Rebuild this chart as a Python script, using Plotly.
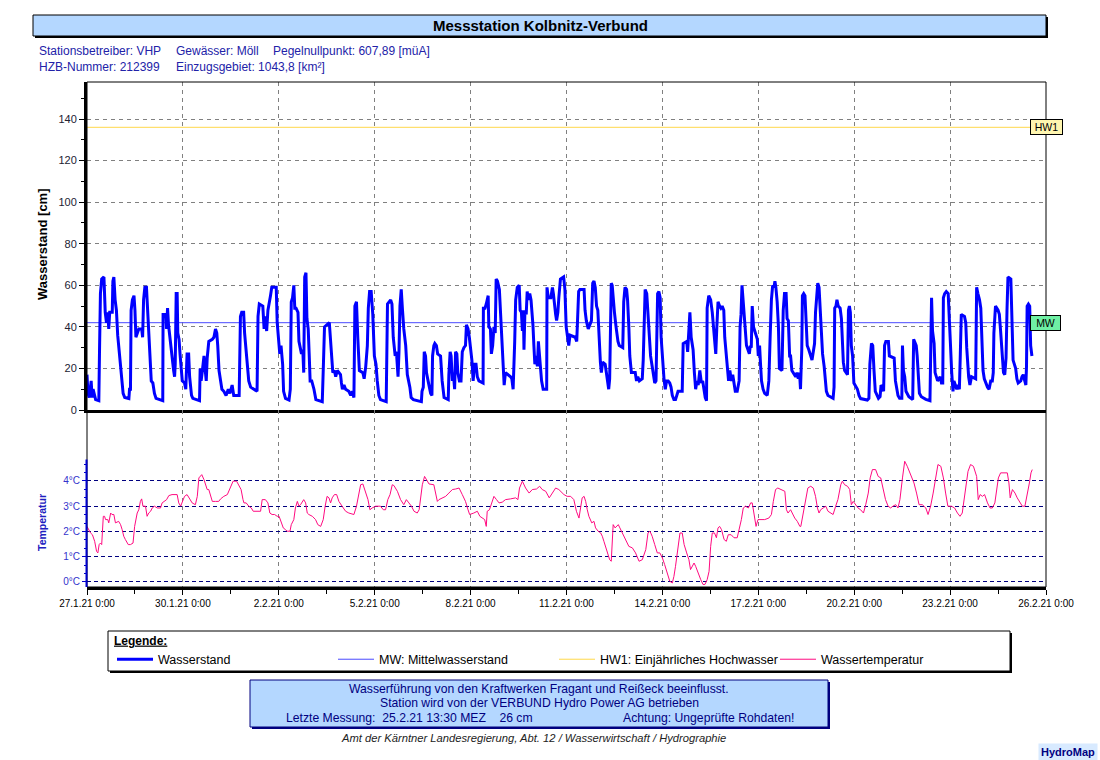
import pandas as pd
import plotly.graph_objects as go

# ---------------- data ----------------
START = "2021-01-27 00:00"
N_DAYS = 30

# Wasserstand [cm]; time given as days after 27.1.21 0:00
wl_day = [
    0.00, 0.03, 0.07, 0.13, 0.16, 0.19, 0.27, 0.37, 0.39, 0.42,
    0.46, 0.53, 0.57, 0.61, 0.65, 0.68, 0.71, 0.79, 0.81, 0.84,
    0.88, 0.92, 0.96, 1.01, 1.05, 1.09, 1.13, 1.18, 1.31, 1.33,
    1.36, 1.38, 1.42, 1.47, 1.50, 1.53, 1.57, 1.62, 1.71, 1.74,
    1.77, 1.81, 1.86, 1.89, 1.93, 1.98, 2.01, 2.06, 2.11, 2.16,
    2.37, 2.38, 2.47, 2.49, 2.52, 2.55, 2.59, 2.62, 2.66, 2.71,
    2.74, 2.76, 2.79, 2.82, 2.84, 2.88, 2.91, 2.95, 2.98, 3.05,
    3.09, 3.13, 3.18, 3.21, 3.24, 3.27, 3.31, 3.52, 3.54, 3.57,
    3.61, 3.66, 3.70, 3.73, 3.76, 3.81, 3.92, 3.97, 4.02, 4.06,
    4.09, 4.13, 4.18, 4.22, 4.28, 4.35, 4.42, 4.47, 4.54, 4.59,
    4.76, 4.77, 4.80, 4.84, 4.90, 4.93, 4.97, 5.01, 5.06, 5.12,
    5.24, 5.32, 5.35, 5.39, 5.50, 5.54, 5.57, 5.62, 5.66, 5.70,
    5.74, 5.78, 5.92, 5.95, 5.99, 6.03, 6.07, 6.12, 6.15, 6.21,
    6.32, 6.36, 6.39, 6.43, 6.47, 6.50, 6.54, 6.60, 6.63, 6.67,
    6.71, 6.75, 6.78, 6.81, 6.85, 6.88, 6.92, 6.95, 6.98, 7.03,
    7.10, 7.16, 7.36,
    7.39, 7.43, 7.58, 7.62, 7.66, 7.69, 7.74, 7.78, 7.83, 7.93,
    7.96, 7.99, 8.04, 8.09, 8.19, 8.25, 8.30, 8.35, 8.38, 8.43,
    8.47, 8.52, 8.63, 8.67, 8.72, 8.77, 8.80, 8.84, 8.89, 8.94,
    8.99, 9.04, 9.08, 9.13, 9.18, 9.36, 9.40, 9.50, 9.54, 9.58,
    9.64, 9.68, 9.73, 9.76, 9.79, 9.83, 9.87, 9.91, 9.97, 10.02,
    10.06, 10.10, 10.14, 10.21, 10.46, 10.48, 10.52, 10.55, 10.59, 10.62,
    10.67, 10.71, 10.75, 10.79, 10.81, 10.85, 10.88, 10.93, 10.97, 11.06,
    11.11, 11.17, 11.30, 11.32, 11.36, 11.39, 11.43, 11.46, 11.50, 11.53,
    11.57, 11.60, 11.65, 11.70, 11.74, 11.79, 11.84, 11.87, 11.92, 11.96,
    12.00, 12.04, 12.08, 12.12, 12.17, 12.21, 12.26, 12.39, 12.40, 12.45,
    12.49, 12.52, 12.55, 12.57, 12.62, 12.65, 12.69, 12.73, 12.77, 12.80,
    12.84, 12.90, 12.94, 12.97, 13.01, 13.05, 13.09, 13.25, 13.29, 13.33,
    13.38, 13.41, 13.46, 13.52, 13.55, 13.59, 13.62, 13.65, 13.67, 13.70,
    13.74, 13.77, 13.80, 13.85, 13.89, 13.92, 13.95, 13.98, 14.01, 14.04,
    14.09, 14.12, 14.16, 14.19, 14.22, 14.27, 14.38, 14.39, 14.43, 14.51,
    14.56, 14.59, 14.62, 14.66, 14.69, 14.73, 14.76, 14.81, 14.91, 14.95,
    14.99, 15.07, 15.11, 15.27, 15.32, 15.35, 15.38, 15.42, 15.55, 15.58,
    15.62, 15.68, 15.78, 15.82, 15.86, 15.90, 15.94, 15.98, 16.01, 16.06,
    16.09, 16.13, 16.21, 16.24, 16.28, 16.32, 16.35, 16.37, 16.40, 16.43,
    16.46, 16.50, 16.55, 16.58, 16.61, 16.65, 16.76, 16.79, 16.83, 16.88,
    16.91, 16.95, 16.98, 17.03, 17.15, 17.19, 17.23, 17.28, 17.37, 17.40,
    17.43, 17.46, 17.51, 17.55, 17.59, 17.63, 17.67, 17.71, 17.76, 17.80,
    17.83, 17.85, 17.89, 17.93, 17.96, 18.01, 18.05, 18.09, 18.13, 18.18,
    18.23, 18.27, 18.31, 18.36, 18.41, 18.49, 18.62, 18.65, 18.76, 18.79,
    18.83, 18.86, 18.90, 18.96, 19.00, 19.04, 19.08, 19.12, 19.17, 19.22,
    19.26, 19.30, 19.34, 19.38, 19.40, 19.45, 19.51, 19.56, 19.60, 19.63,
    19.67, 19.70, 19.74, 19.79, 19.83, 19.87, 19.92, 19.95, 19.99, 20.03,
    20.07, 20.11, 20.16, 20.20, 20.24, 20.28, 20.34, 20.40, 20.43, 20.46,
    20.49, 20.52, 20.55, 20.59, 20.63, 20.72, 20.75, 20.78, 20.81, 20.85,
    20.97, 21.00, 21.04, 21.07, 21.10, 21.15, 21.20, 21.28, 21.33, 21.37,
    21.41, 21.45, 21.49, 21.52, 21.55, 21.59, 21.63, 21.66, 21.74, 21.78,
    21.82, 21.87, 21.90, 21.94, 21.98, 22.01, 22.05, 22.17, 22.21, 22.25,
    22.29, 22.32, 22.36, 22.38, 22.42, 22.46, 22.50, 22.53, 22.58,
    22.64, 22.68, 22.72, 22.76, 22.79, 22.83, 22.86, 22.90, 22.93, 22.97,
    23.01, 23.06, 23.09, 23.13, 23.18, 23.34, 23.37, 23.39, 23.43, 23.46,
    23.50, 23.56, 23.60, 23.63, 23.66, 23.70, 23.79, 23.82, 23.85, 23.88,
    23.91, 23.95, 23.99, 24.10, 24.15, 24.20, 24.41, 24.46, 24.49, 24.54,
    24.58, 24.62, 24.66, 24.76, 24.81, 24.84, 24.89, 24.92, 24.95, 24.99,
    25.07, 25.10, 25.25, 25.29, 25.33, 25.37, 25.42, 25.49, 25.51, 25.54,
    25.58, 25.62, 25.71, 25.83, 25.86, 25.94, 25.97, 26.01, 26.04, 26.10,
    26.24, 26.37, 26.39, 26.42, 26.45, 26.50, 26.53, 26.61, 26.69, 26.73,
    26.77, 26.79, 26.83, 26.88, 26.94, 26.97, 27.01, 27.05, 27.09, 27.12,
    27.17, 27.21, 27.25, 27.29, 27.32, 27.35, 27.45, 27.49, 27.52, 27.55,
    27.58, 27.62, 27.67, 27.80, 27.83, 27.87, 27.92, 27.96, 28.00, 28.03,
    28.07, 28.11, 28.17, 28.22, 28.27, 28.32, 28.35, 28.37, 28.42, 28.50,
    28.54, 28.58, 28.62, 28.67, 28.71, 28.75, 28.78, 28.81, 28.90, 28.93,
    28.97, 29.05, 29.09, 29.13, 29.21, 29.25, 29.29, 29.32, 29.37, 29.39,
    29.41, 29.45, 29.49, 29.52, 29.56,
]
wl_cm = [
    17, 8, 6, 14, 6, 10, 5, 4.5, 27, 56,
    63, 64, 47, 42, 47, 39, 47, 47, 62, 64,
    53, 48, 36, 27, 21, 14, 8, 6, 5.5, 10,
    10, 48, 53, 55, 48, 35, 37, 39, 39, 35,
    53, 59, 59, 51, 40, 28, 14, 13, 8, 5.6,
    4.5, 46, 46, 39, 49, 41, 35, 31, 24, 19,
    16, 22, 56, 56, 37, 34, 27, 19, 14, 13,
    10, 27, 27, 16, 10, 7, 5.6, 4.5, 20, 14,
    19, 26, 19, 14, 25, 33, 34, 35, 39, 37,
    31, 19, 14, 10, 9, 7, 10, 8, 12, 7,
    7, 26, 45, 47, 47, 37, 31, 24, 14, 11,
    10, 9, 45, 51, 50, 39, 45, 38, 48, 51,
    55, 59, 59, 42, 35, 27, 31, 22, 9, 5.6,
    4.8, 10, 52, 54, 60, 49, 49, 47, 33, 29,
    27, 29, 18, 64, 66, 44, 39, 27, 14, 14,
    10, 5, 4,
    19, 40, 42, 31, 20, 18, 19, 16, 19, 17,
    13, 10, 12, 10, 9, 7, 9, 6, 50, 52,
    35, 19, 18, 15, 21, 31, 49, 57, 57, 46,
    26, 22, 14, 7, 5, 4, 51, 53, 51, 35,
    26, 28, 16, 28, 50, 58, 48, 39, 31, 17,
    14, 11, 6, 5, 4, 9, 11, 28, 26, 18,
    14, 11, 8, 7, 26, 31, 32, 31, 27, 26,
    14, 6, 5, 17, 28, 26, 14, 18, 10, 28,
    27, 18, 14, 14, 28, 30, 31, 41, 39, 35,
    29, 24, 14, 22, 22, 16, 14, 13, 49, 49,
    51, 53, 55, 40, 39, 27, 31, 40, 37, 63,
    62, 58, 46, 35, 21, 12, 18, 16, 15, 10,
    33, 53, 59, 60, 48, 47, 38, 48, 29, 48,
    46, 57, 53, 56, 53, 48, 41, 31, 22, 26,
    21, 33, 25, 18, 14, 10, 10, 59, 54, 54,
    59, 56, 50, 46, 43, 47, 54, 63, 64, 58,
    40, 31, 36, 35, 33, 45, 57, 58, 58, 48,
    43, 39, 43, 61, 62, 59, 50, 48, 35, 23,
    18, 23, 22, 18, 14, 10, 15, 47, 61, 60,
    52, 47, 40, 35, 33, 31, 30, 52, 59, 58,
    53, 40, 26, 18, 18, 14, 16, 14, 15, 24,
    48, 58, 56, 47, 34, 26, 22, 18, 13, 14,
    42, 56, 57, 54, 35, 21, 15, 10, 14, 14,
    13, 11, 7, 5, 5, 9, 9, 32, 33, 28,
    43, 47, 35, 29, 18, 10, 14, 12, 19, 13,
    14, 10, 6, 4.5, 49, 55, 53, 47, 40, 34,
    27, 39, 52, 50, 49, 50, 48, 35, 27, 22,
    14, 19, 14, 17, 13, 9, 9, 14, 40, 46,
    60, 54, 49, 43, 31, 27, 31, 30, 50, 40,
    34, 26, 31, 22, 14, 10, 8, 7, 14, 35,
    53, 60, 59, 62, 59, 52, 40, 20, 19, 48,
    56, 56, 44, 43, 26, 26, 19, 16, 18, 15,
    18, 10, 29, 55, 56, 55, 40, 31, 29,
    26, 24, 28, 32, 47, 59, 61, 59, 50, 37,
    27, 21, 14, 9, 7, 5.6, 11, 49, 50, 53,
    50, 49, 44, 30, 23, 19, 17, 48, 50, 47,
    31, 26, 13, 10, 7, 5.5, 4.8, 5.6, 22, 32,
    31, 19, 9, 5.6, 6.4, 12, 11, 9, 31, 33,
    33, 26, 25, 14, 11, 7, 5.6, 5.6, 31, 19,
    16, 9, 6.4, 5.1, 34, 31, 26, 13, 8, 6.4,
    5.1, 4.5, 41, 54, 38, 32, 18, 14, 16, 13,
    13, 54, 56, 57, 56, 42, 32, 18, 9, 14,
    12, 10, 12, 10, 27, 46, 45, 42, 30, 21,
    16, 12, 16, 15, 59, 56, 53, 49, 30, 19,
    15, 13, 11, 10, 14, 14, 18, 37, 50, 48,
    46, 38, 26, 18, 17, 25, 48, 64, 63, 41,
    24, 20, 15, 13, 14, 16, 17, 15, 12, 21,
    50, 51, 50, 31, 26,
]

# Wassertemperatur [°C]; time as days after 27.1.21 0:00
temp_day = [
    0.00, 0.05, 0.11, 0.17, 0.24, 0.30, 0.34, 0.38, 0.42, 0.46,
    0.51, 0.55, 0.58, 0.65, 0.68, 0.74, 0.78, 0.84, 0.89, 0.99,
    1.05, 1.10, 1.15, 1.20, 1.29, 1.36, 1.44, 1.49, 1.53, 1.57,
    1.62, 1.67, 1.71, 1.75, 1.83, 1.88, 1.93, 1.99, 2.04, 2.11,
    2.20, 2.30, 2.35, 2.43, 2.49, 2.56, 2.66, 2.82, 2.87, 2.93,
    2.98, 3.05, 3.13, 3.20, 3.29, 3.39, 3.45, 3.50, 3.55, 3.59,
    3.66, 3.71, 3.76, 3.81, 3.86, 3.92, 4.02, 4.12, 4.18, 4.28,
    4.39, 4.49, 4.57, 4.68, 4.75, 4.82, 4.88, 4.91, 4.98, 5.06,
    5.14, 5.20, 5.43, 5.48, 5.58, 5.66, 5.72, 5.79, 5.87, 5.95,
    6.01, 6.08, 6.14, 6.21, 6.26, 6.35, 6.39, 6.47, 6.52, 6.58,
    6.63, 6.68, 6.73, 6.78, 6.84, 6.89, 6.94, 7.05, 7.15, 7.22,
    7.31, 7.39, 7.45, 7.51, 7.57, 7.62, 7.67, 7.74, 7.81, 7.88,
    7.98, 8.09, 8.19, 8.30, 8.35, 8.43, 8.51, 8.56, 8.63, 8.71,
    8.79, 8.85, 8.92, 9.03, 9.18, 9.27, 9.34, 9.41, 9.48, 9.55,
    9.60, 9.71, 9.81, 9.91, 9.99, 10.07, 10.15, 10.23, 10.33, 10.39,
    10.43, 10.49, 10.56, 10.62, 10.70, 10.85, 10.90, 10.96, 11.01, 11.11,
    11.22, 11.32, 11.43, 11.53, 11.64, 11.74, 11.84, 11.92, 11.97, 12.10,
    12.21, 12.29, 12.37, 12.44, 12.49, 12.52, 12.59, 12.66, 12.73, 12.81,
    12.89, 12.99, 13.09, 13.25, 13.41, 13.48, 13.53, 13.62, 13.72, 13.83,
    13.93, 14.06, 14.16, 14.24, 14.35, 14.46, 14.56, 14.66, 14.76,
    14.82, 14.92, 15.02, 15.13, 15.23, 15.31, 15.39, 15.44, 15.49, 15.55,
    15.60, 15.65, 15.70, 15.79, 15.86, 15.91, 15.99, 16.07, 16.12, 16.17,
    16.22, 16.27, 16.35, 16.40, 16.43, 16.46, 16.52, 16.57, 16.62, 16.67,
    16.74, 16.85, 16.95, 17.06, 17.16, 17.27, 17.37, 17.48, 17.55, 17.61,
    17.68, 17.76, 17.84, 17.92, 18.00, 18.07, 18.15, 18.23, 18.31, 18.36,
    18.41, 18.49, 18.55, 18.62, 18.68, 18.76, 18.83, 18.88, 18.94, 18.99,
    19.04, 19.11, 19.20, 19.27, 19.33, 19.40, 19.46, 19.51, 19.56, 19.63,
    19.69, 19.74, 19.79, 19.85, 19.93, 20.00, 20.06, 20.15, 20.24, 20.34,
    20.42, 20.47, 20.53, 20.60, 20.69, 20.76, 20.81, 20.86, 20.93, 20.99,
    21.07, 21.20, 21.33, 21.41, 21.47, 21.54, 21.61, 21.70, 21.78, 21.83,
    21.88, 21.93, 22.01, 22.06, 22.14, 22.22, 22.30,
    22.33, 22.41, 22.48, 22.55, 22.64, 22.72, 22.79, 22.85, 22.90, 22.95,
    23.03, 23.11, 23.18, 23.26, 23.34, 23.42, 23.49, 23.58, 23.63, 23.70,
    23.79, 23.86, 23.91, 23.97, 24.05, 24.12, 24.20, 24.29, 24.36, 24.44,
    24.50, 24.57, 24.67, 24.75, 24.83, 24.91, 24.98, 25.06, 25.14, 25.21,
    25.30, 25.37, 25.43, 25.51, 25.58, 25.66, 25.77, 25.87, 25.95, 26.03,
    26.13, 26.24, 26.31, 26.39, 26.47, 26.55, 26.62, 26.71, 26.79, 26.86,
    26.93, 27.04, 27.14, 27.23, 27.31, 27.38, 27.44, 27.49, 27.56, 27.64,
    27.73, 27.83, 27.88, 27.94, 28.01, 28.08, 28.17, 28.25, 28.32, 28.40,
    28.46, 28.51, 28.58, 28.69, 28.79, 28.84, 28.88, 28.95, 29.03, 29.10,
    29.19, 29.26, 29.34, 29.42, 29.48, 29.53, 29.57,
]
temp_c = [
    2.20, 2.07, 1.94, 1.87, 1.61, 1.21, 1.15, 1.48, 1.54, 1.48,
    2.60, 2.60, 2.47, 2.47, 2.34, 2.73, 2.67, 2.67, 2.34, 2.40,
    2.27, 2.07, 1.81, 1.68, 1.48, 1.48, 1.54, 2.20, 2.47, 2.73,
    2.86, 3.19, 3.29, 3.00, 3.00, 2.60, 2.73, 2.80, 2.93, 3.00,
    2.93, 2.93, 3.13, 3.19, 3.26, 3.42, 3.46, 3.46, 3.13, 3.00,
    3.19, 3.39, 3.46, 3.33, 3.13, 3.06, 3.39, 4.12, 4.18, 4.25,
    4.05, 3.85, 3.66, 3.66, 3.46, 3.19, 3.19, 3.19, 3.29, 3.39,
    3.46, 3.72, 3.99, 3.99, 3.79, 3.66, 3.26, 3.13, 3.13, 3.00,
    2.93, 2.80, 2.80, 3.26, 3.26, 3.13, 2.73, 2.67, 2.67, 2.60,
    2.60, 2.34, 2.14, 2.07, 2.01, 2.01, 2.27, 2.47, 2.93, 3.19,
    3.00, 3.06, 3.19, 3.26, 3.13, 2.73, 2.67, 2.60, 2.47, 2.27,
    2.20, 2.47, 3.00, 3.39, 3.33, 3.13, 3.33, 3.46, 3.46, 3.19,
    3.00, 2.80, 2.73, 2.67, 2.67, 3.00, 3.52, 3.85, 3.88, 3.52,
    3.26, 2.86, 2.93, 3.00, 3.00, 2.86, 2.86, 3.26, 3.46, 3.85,
    3.82, 3.59, 3.26, 3.06, 3.26, 3.13, 3.00, 2.80, 2.73, 2.86,
    3.26, 3.85, 4.18, 4.05, 3.88, 3.85, 3.59, 3.19, 3.26, 3.33,
    3.39, 3.52, 3.66, 3.68, 3.72, 3.46, 3.19, 2.86, 2.67, 2.73,
    2.80, 2.60, 2.53, 2.47, 2.20, 2.80, 2.86, 3.13, 3.39, 3.26,
    3.13, 3.16, 3.26, 3.29, 3.33, 3.26, 3.72, 3.99, 3.72, 3.52,
    3.66, 3.68, 3.79, 3.66, 3.59, 3.33, 3.52, 3.72, 3.66,
    3.59, 3.46, 3.39, 3.39, 3.26, 2.80, 2.53, 2.86, 3.33, 3.39,
    3.19, 2.86, 2.60, 2.34, 2.40, 2.14, 2.01, 1.94, 1.81, 1.61,
    1.41, 1.15, 0.88, 0.82, 1.48, 2.27, 2.14, 2.20, 2.27, 2.14,
    1.94, 1.68, 1.41, 1.35, 1.15, 0.82, 0.88, 1.28, 1.94, 2.01,
    1.81, 1.48, 1.15, 1.15, 0.95, 0.69, 0.36, 0.03, -0.04, 0.22,
    0.62, 1.41, 1.94, 1.94, 1.48, 1.15, 0.88, 0.49, 0.62, 0.75,
    0.62, 0.36, 0.09, -0.10, -0.10, 0.09, 0.42, 1.41, 1.94, 1.94,
    1.75, 2.14, 2.20, 2.07, 1.68, 1.61, 1.87, 1.87, 1.75, 1.75,
    2.14, 2.47, 2.93, 3.00, 2.93, 3.13, 3.13, 2.73, 2.20, 2.47,
    2.47, 2.47, 2.53, 2.67, 3.19, 3.66, 3.72, 3.66, 3.59, 3.59,
    2.86, 2.73, 2.86, 2.73, 2.53, 2.40, 2.20,
    2.20, 2.73, 3.33, 3.72, 3.79, 3.72, 3.39, 2.93, 2.73, 2.86,
    2.93, 3.00, 2.80, 2.73, 2.67, 3.00, 3.26, 3.85, 3.99, 3.85,
    3.79, 3.66, 3.06, 3.19, 3.06, 2.93, 2.86, 2.73, 3.06, 3.52,
    4.12, 4.45, 4.45, 4.18, 4.12, 3.72, 3.26, 3.00, 2.93, 3.00,
    3.06, 2.93, 3.26, 4.12, 4.78, 4.58, 4.25, 3.92, 3.52, 3.06,
    3.06, 2.93, 2.67, 3.00, 3.52, 4.18, 4.65, 4.58, 4.12, 3.52,
    3.00, 3.00, 2.93, 2.73, 2.60, 2.73, 3.26, 3.79, 4.38, 4.65,
    4.58, 4.18, 3.26, 3.46, 3.39, 3.46, 3.13, 2.93, 2.93, 3.13,
    3.66, 4.12, 4.32, 4.32, 4.32, 3.92, 3.33, 3.66, 3.52, 3.33,
    3.13, 3.00, 3.00, 3.46, 3.92, 4.32, 4.45,
]

MW_CM = 42      # Mittelwasserstand
HW1_CM = 136    # einjährliches Hochwasser

x_tick_days = [0, 3, 6, 9, 12, 15, 18, 21, 24, 27, 30]
x_tick_labels = ["27.1.21 0:00", "30.1.21 0:00", "2.2.21 0:00", "5.2.21 0:00",
                 "8.2.21 0:00", "11.2.21 0:00", "14.2.21 0:00", "17.2.21 0:00",
                 "20.2.21 0:00", "23.2.21 0:00", "26.2.21 0:00"]
x_minor_days = [1.5, 4.5, 7.5, 10.5, 13.5, 16.5, 19.5, 22.5, 25.5, 28.5]
wl_ticks = [0, 20, 40, 60, 80, 100, 120, 140]
wl_minor_ticks = [10, 30, 50, 70, 90, 110, 130, 150]
temp_ticks = [0, 1, 2, 3, 4]
temp_tick_labels = ["0°C", "1°C", "2°C", "3°C", "4°C"]

assert len(wl_day) == len(wl_cm), (len(wl_day), len(wl_cm))
assert len(temp_day) == len(temp_c), (len(temp_day), len(temp_c))

# ---------------- helpers ----------------
t0 = pd.Timestamp(START)
def to_time(days):
    return [t0 + pd.Timedelta(days=float(d)) for d in days]

W, H = 1100, 760
def px(x):
    return x / W
def py(y):
    return 1 - y / H

FONT = "Liberation Sans, Arial, sans-serif"
NAVY = "#00007f"
BOX_BLUE = "#b4d7ff"

t_end = t0 + pd.Timedelta(days=N_DAYS)
grid_vals = to_time(x_tick_days)

fig = go.Figure()

fig.add_trace(go.Scatter(
    x=[t0, t_end], y=[HW1_CM, HW1_CM], mode="lines",
    name="HW1: Einjährliches Hochwasser", legendrank=3,
    line=dict(color="#ffd84a", width=1), hoverinfo="skip",
    xaxis="x", yaxis="y"))
fig.add_trace(go.Scatter(
    x=[t0, t_end], y=[MW_CM, MW_CM], mode="lines",
    name="MW: Mittelwasserstand", legendrank=2,
    line=dict(color="#4a4aff", width=1), hoverinfo="skip",
    xaxis="x", yaxis="y"))
fig.add_trace(go.Scatter(
    x=to_time(wl_day), y=wl_cm, mode="lines", name="Wasserstand",
    legendrank=1, line=dict(color="#0000ff", width=3),
    xaxis="x", yaxis="y"))
fig.add_trace(go.Scatter(
    x=to_time(temp_day), y=temp_c, mode="lines", name="Wassertemperatur",
    legendrank=4, line=dict(color="#ff0a80", width=1),
    xaxis="x2", yaxis="y2"))

grid_dash = "4px,4px"
common_x = dict(
    type="date", domain=[px(87), px(1046)], range=[t0, t_end],
    showgrid=True, gridcolor="#808080", griddash=grid_dash, gridwidth=1,
    tickvals=grid_vals, zeroline=False, automargin=False,
    showline=True, linecolor="black", linewidth=3,
)

fig.update_layout(
    template="none",
    width=W, height=H, autosize=False,
    margin=dict(l=0, r=0, t=0, b=0, pad=0, autoexpand=False),
    paper_bgcolor="white", plot_bgcolor="white",
    font=dict(family=FONT, size=11, color="black"),
    hovermode=False,
    xaxis=dict(**common_x, anchor="y", showticklabels=False, ticks=""),
    xaxis2=dict(**common_x, anchor="y2", matches="x",
                ticktext=x_tick_labels, showticklabels=True,
                ticks="outside", ticklen=5, tickcolor="black", tickwidth=1,
                tickfont=dict(size=10, color="black"),
                minor=dict(tickvals=to_time(x_minor_days), ticks="outside",
                           ticklen=4, tickcolor="black", showgrid=False)),
    yaxis=dict(domain=[py(410), py(82)], range=[0, 157.8], anchor="x",
               automargin=False,
               tickvals=wl_ticks, ticks="outside", ticklen=5,
               tickcolor="black", tickfont=dict(size=11, color="#222233"),
               showline=True, linecolor="black", linewidth=3,
               showgrid=True, gridcolor="#808080", griddash=grid_dash,
               zeroline=False,
               minor=dict(tickvals=wl_minor_ticks, ticks="outside",
                          ticklen=3, tickcolor="black", showgrid=False)),
    yaxis2=dict(domain=[py(587), py(410)], range=[-0.2, 6.81], anchor="x2",
                automargin=False,
                tickvals=temp_ticks, ticktext=temp_tick_labels,
                ticks="outside", ticklen=4, tickcolor="#0000cc",
                tickfont=dict(size=10, color="#3333cc"),
                showline=False, showgrid=True, gridcolor=NAVY,
                griddash="4px,3px", zeroline=False,
                minor=dict(tickvals=[k / 3 for k in range(0, 15)],
                           ticks="outside", ticklen=2, tickcolor="#0000cc",
                           showgrid=False)),
    showlegend=True,
    legend=dict(orientation="h", x=px(112), y=py(629),
                xanchor="left", yanchor="top",
                bgcolor="rgba(0,0,0,0)", borderwidth=0,
                font=dict(size=12.5, color="black"),
                title=dict(text="<b><u>Legende:</u></b>", side="top",
                           font=dict(size=12, color="black")),
                entrywidth=170, entrywidthmode="pixels",
                itemwidth=36, tracegroupgap=0,
                itemclick=False, itemdoubleclick=False),
)

shapes = []
# title bar (shadow + bar)
shapes.append(dict(type="rect", xref="paper", yref="paper",
                   x0=px(35), x1=px(1048), y0=py(38), y1=py(17),
                   fillcolor="black", line=dict(width=0), layer="below"))
shapes.append(dict(type="rect", xref="paper", yref="paper",
                   x0=px(33), x1=px(1046), y0=py(36), y1=py(15),
                   fillcolor=BOX_BLUE, line=dict(color="black", width=1),
                   layer="below"))
# plot frame (top + right border)
shapes.append(dict(type="rect", xref="paper", yref="paper",
                   x0=px(87), x1=px(1046), y0=py(587), y1=py(82),
                   line=dict(color="black", width=1), layer="above"))
# temperature axis line
shapes.append(dict(type="line", xref="paper", yref="y2",
                   x0=px(86.5), x1=px(86.5), y0=-0.2, y1=4.85,
                   line=dict(color="#0000cc", width=2), layer="above"))
# legend frame (shadow + box)
shapes.append(dict(type="rect", xref="paper", yref="paper",
                   x0=px(110), x1=px(1012), y0=py(673), y1=py(633),
                   fillcolor="black", line=dict(width=0), layer="below"))
shapes.append(dict(type="rect", xref="paper", yref="paper",
                   x0=px(108), x1=px(1010), y0=py(671), y1=py(631),
                   fillcolor="white", line=dict(color="black", width=1),
                   layer="below"))
# info box (shadow + box)
shapes.append(dict(type="rect", xref="paper", yref="paper",
                   x0=px(252), x1=px(830), y0=py(729), y1=py(682),
                   fillcolor=NAVY, line=dict(width=0), layer="below"))
shapes.append(dict(type="rect", xref="paper", yref="paper",
                   x0=px(250), x1=px(828), y0=py(727), y1=py(680),
                   fillcolor=BOX_BLUE, line=dict(color=NAVY, width=1),
                   layer="below"))
fig.update_layout(shapes=shapes)

ann = []
def text(x, y, s, size=11, color="black", xanchor="left", bold=False,
         italic=False, **kw):
    if bold:
        s = f"<b>{s}</b>"
    if italic:
        s = f"<i>{s}</i>"
    d = dict(x=px(x), y=py(y), xref="paper", yref="paper", text=s,
             showarrow=False, xanchor=xanchor, yanchor="middle",
             font=dict(size=size, color=color, family=FONT))
    d.update(kw)
    ann.append(d)

text(540, 25, "Messstation Kolbnitz-Verbund", size=15, bold=True,
     xanchor="center")
HDR = "#2222a8"
text(37, 51, "Stationsbetreiber: VHP", size=12, color=HDR)
text(174, 51, "Gewässer: Möll", size=12, color=HDR)
text(271, 51, "Pegelnullpunkt: 607,89 [müA]", size=12, color=HDR)
text(37, 67, "HZB-Nummer: 212399", size=12, color=HDR)
text(174, 67, "Einzugsgebiet: 1043,8 [km²]", size=12, color=HDR)

text(42, 244, "Wasserstand [cm]", size=13, bold=True, xanchor="center",
     textangle=-90)
text(42, 523, "Temperatur", size=10.5, bold=True, color="#2020c0",
     xanchor="center", textangle=-90)

# reference level labels
ann.append(dict(x=px(1030), y=HW1_CM, xref="paper", yref="y", text="HW1",
                showarrow=False, xanchor="left", yanchor="middle",
                width=29, height=12, align="center",
                bgcolor="#fff6b0", bordercolor="black", borderwidth=1,
                borderpad=1, font=dict(size=10.5, color="black", family=FONT)))
ann.append(dict(x=px(1030), y=MW_CM, xref="paper", yref="y", text="MW",
                showarrow=False, xanchor="left", yanchor="middle",
                width=27, height=12, align="center",
                bgcolor="#6ff0a4", bordercolor="black", borderwidth=1,
                borderpad=1, font=dict(size=10.5, color="black", family=FONT)))

# info box lines
INFO = 12.2
text(539, 689, "Wasserführung von den Kraftwerken Fragant und Reißeck beeinflusst.",
     size=INFO, color=NAVY, xanchor="center")
text(539, 703, "Station wird von der VERBUND Hydro Power AG betrieben",
     size=INFO, color=NAVY, xanchor="center")
text(284, 718, "Letzte Messung:&nbsp;&nbsp;25.2.21 13:30 MEZ&nbsp;&nbsp;&nbsp;&nbsp;26 cm",
     size=INFO, color=NAVY)
text(621, 718, "Achtung: Ungeprüfte Rohdaten!", size=INFO, color=NAVY)

text(533, 738, "Amt der Kärntner Landesregierung, Abt. 12 / Wasserwirtschaft / Hydrographie",
     size=11.2, italic=True, color="#222222", xanchor="center")

ann.append(dict(x=px(1098), y=py(752), xref="paper", yref="paper",
                text="<b>HydroMap</b>", showarrow=False, xanchor="right",
                yanchor="middle", bgcolor="#d8eaff", borderpad=2,
                font=dict(size=11, color=NAVY, family=FONT)))

fig.update_layout(annotations=ann)

fig.write_html("out.html", config={"displayModeBar": False})
